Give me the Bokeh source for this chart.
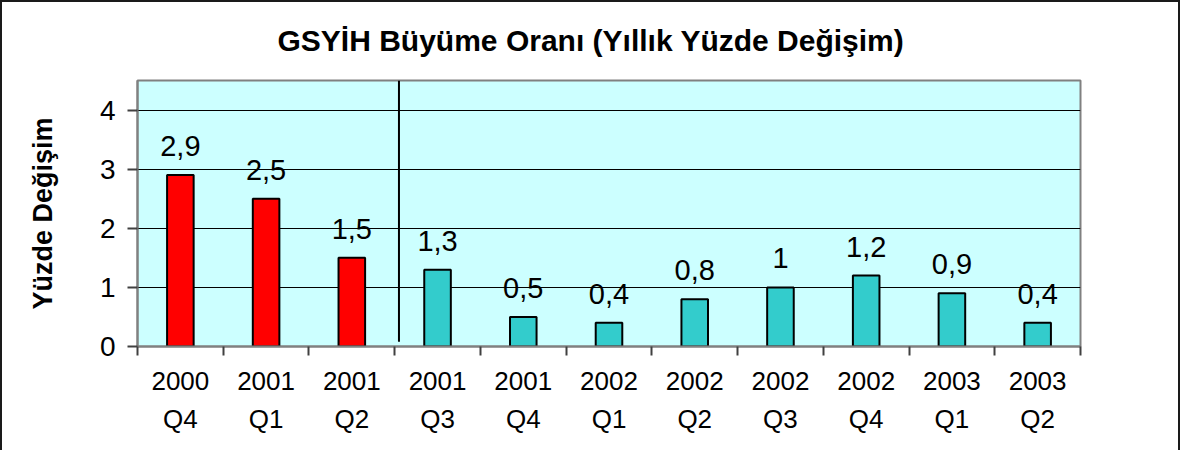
from bokeh.plotting import figure
from bokeh.models import ColumnDataSource, FixedTicker, LabelSet
from bokeh.core.properties import value
from bokeh.embed import file_html
from bokeh.resources import INLINE

categories = ["2000\nQ4", "2001\nQ1", "2001\nQ2", "2001\nQ3", "2001\nQ4", "2002\nQ1",
              "2002\nQ2", "2002\nQ3", "2002\nQ4", "2003\nQ1", "2003\nQ2"]
values = [2.9, 2.5, 1.5, 1.3, 0.5, 0.4, 0.8, 1.0, 1.2, 0.9, 0.4]
value_labels = ["2,9", "2,5", "1,5", "1,3", "0,5", "0,4", "0,8", "1", "1,2", "0,9", "0,4"]
period = ["old", "old", "old", "new", "new", "new", "new", "new", "new", "new", "new"]
y_ticks = [0, 1, 2, 3, 4]
title_text = "GSYİH Büyüme Oranı (Yıllık Yüzde Değişim)"
y_title = "Yüzde Değişim"

FONT = "Liberation Sans"
color_map = {"old": "#FF0000", "new": "#33CCCC"}

n = len(categories)
xs = [i + 0.5 for i in range(n)]
src = ColumnDataSource(dict(x=xs, top=values, label=value_labels,
                            color=[color_map[p_] for p_ in period]))

p = figure(width=1180, height=450, output_backend="svg", toolbar_location=None,
           x_range=(0, n), y_range=(0, 4.5),
           min_border_left=135, min_border_right=102, min_border_top=77, min_border_bottom=106)
p.styles = {"border-left": "2px solid #1a1a1a", "border-top": "2px solid #1a1a1a",
            "border-right": "2px solid #1a1a1a"}
p.background_fill_color = "#CCFFFF"
p.border_fill_color = "white"
p.outline_line_color = "#808080"
p.outline_line_width = 2

# title
p.title.text = title_text
p.title.align = "left"
p.title.offset = 140
p.title.standoff = 43
p.title.vertical_align = "top"
p.title.text_font = FONT
p.title.text_font_size = "30px"
p.title.text_font_style = "bold"
p.title.text_color = "black"

p.vbar(x="x", top="top", width=0.31, source=src, fill_color="color",
       line_color="black", line_width=2)

# divider between periods
p.segment(x0=[3.05], y0=[0.08], x1=[3.05], y1=[4.5], line_color="black", line_width=2)

labels = LabelSet(x="x", y="top", text="label", source=src, text_align="center",
                  text_baseline="alphabetic", y_offset=19, text_font=value(FONT),
                  text_font_size=value("29px"), text_color="black")
p.add_layout(labels)

# x axis
p.xaxis.ticker = FixedTicker(ticks=xs, minor_ticks=list(range(n + 1)))
p.xaxis.major_label_overrides = {x: c for x, c in zip(xs, categories)}
p.xaxis.major_tick_out = 0
p.xaxis.major_tick_in = 0
p.xaxis.minor_tick_out = 9
p.xaxis.minor_tick_in = 0
p.xaxis.minor_tick_line_color = "#404040"
p.xaxis.minor_tick_line_width = 2
p.xaxis.axis_line_color = "#808080"
p.xaxis.axis_line_width = 2
p.xaxis.major_label_text_font = FONT
p.xaxis.major_label_text_font_size = "26px"
p.xaxis.major_label_text_color = "black"
p.xaxis.major_label_text_line_height = 1.27
p.xaxis.major_label_standoff = 10

# y axis
p.yaxis.ticker = FixedTicker(ticks=y_ticks)
p.yaxis.major_tick_out = 10
p.yaxis.major_tick_in = 0
p.yaxis.minor_tick_out = 0
p.yaxis.minor_tick_in = 0
p.yaxis.major_tick_line_color = "#404040"
p.yaxis.major_tick_line_width = 2
p.yaxis.axis_line_color = "#808080"
p.yaxis.axis_line_width = 2
p.yaxis.major_label_text_font = FONT
p.yaxis.major_label_text_font_size = "28px"
p.yaxis.major_label_text_color = "black"
p.yaxis.major_label_standoff = 12
p.yaxis.axis_label = y_title
p.yaxis.axis_label_text_font = FONT
p.yaxis.axis_label_text_font_size = "27px"
p.yaxis.axis_label_text_font_style = "bold"
p.yaxis.axis_label_text_color = "black"
p.yaxis.axis_label_standoff = 39

p.xgrid.grid_line_color = None
p.ygrid.ticker = FixedTicker(ticks=y_ticks[1:])
p.ygrid.grid_line_color = "black"
p.ygrid.grid_line_width = 1

open("out.html", "w").write(file_html(p, INLINE))
